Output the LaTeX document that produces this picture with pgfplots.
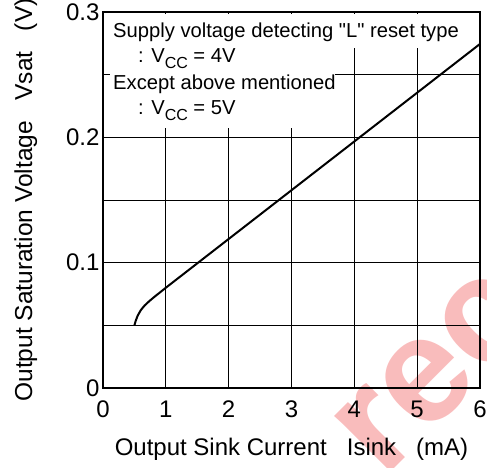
\documentclass[border=0pt]{standalone}
\usepackage{pgfplots}
\pgfplotsset{compat=1.18}
\usepackage{fontspec}
\setmainfont{Liberation Sans}[Ligatures=TeXOff]
\definecolor{wm}{RGB}{249,188,188}
\begin{document}
\begin{tikzpicture}[x=1bp,y=1bp]
\node[rotate=45, text=wm, font=\fontsize{150bp}{150bp}\selectfont\bfseries, anchor=mid] at (358,-10) {rec};
\begin{axis}[
  at={(0,0)}, anchor=origin,
  scale only axis, width=377bp, height=376bp,
  xmin=0, xmax=6, ymin=0, ymax=0.3,
  xtick={0,1,2,3,4,5,6}, ytick={0,0.1,0.2,0.3},
  minor ytick={0.05,0.15,0.25},
  grid=both,
  major grid style={black, line width=0.7bp},
  minor grid style={black, line width=0.7bp},
  major tick length=0, minor tick length=0,
  axis line style={black, line width=1.2bp},
  tick label style={font=\fontsize{24bp}{28bp}\selectfont},
  xticklabel style={yshift=-9bp},
  /pgf/number format/assume math mode=true,
  yticklabel style={/pgf/number format/fixed, /pgf/number format/precision=1},
  xlabel={Output Sink Current\ \ \ Isink\ \ \ (mA)},
  ylabel={Output Saturation Voltage\ \ \ Vsat\ \ \ (V)},
  xlabel style={font=\fontsize{24bp}{28bp}\selectfont, at={(axis description cs:0.5,-0.1782)}, anchor=base},
  ylabel style={font=\fontsize{24.5bp}{28bp}\selectfont, at={(axis description cs:-0.1883,0.5)}, anchor=base},
]
\addplot[black, line width=2bp] coordinates {
(0.50,0.0500) (0.52,0.0535) (0.55,0.0575) (0.60,0.0620) (0.66,0.0657)
(0.73,0.0690) (0.81,0.0724) (0.90,0.0760) (1.00,0.0800) (6.00,0.2745)
};
\end{axis}
\fill[white] (5,340) rectangle (360,374);
\fill[white] (7,260) rectangle (232,340);
\begin{scope}[every node/.style={anchor=base west, inner sep=0pt, font=\fontsize{20.2bp}{24bp}\selectfont}]
\node at (10,350) {Supply voltage detecting "L" reset type};
\node at (35,325) {: V\raisebox{-0.25em}{\fontsize{16bp}{16bp}\selectfont CC} = 4V};
\node at (10,298) {Except above mentioned};
\node at (35,273) {: V\raisebox{-0.25em}{\fontsize{16bp}{16bp}\selectfont CC} = 5V};
\end{scope}
\pgfresetboundingbox
\useasboundingbox (-103,-80) rectangle (384,388);
\end{tikzpicture}
\end{document}
